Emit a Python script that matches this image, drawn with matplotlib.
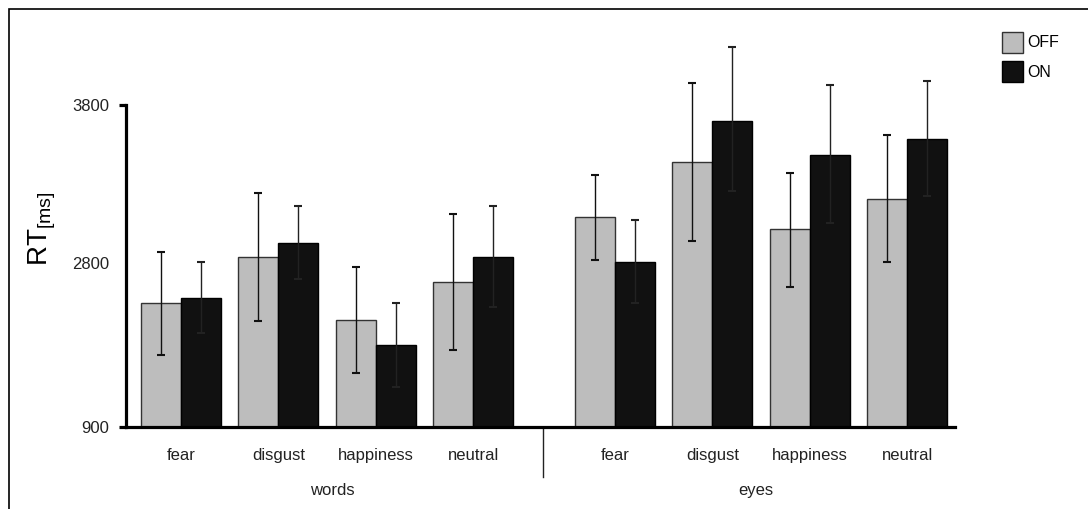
import numpy as np
import matplotlib
matplotlib.use("Agg")
import matplotlib.pyplot as plt
from matplotlib.patches import Rectangle

plt.rcParams["font.family"] = ["Liberation Sans", "DejaVu Sans"]

# categories
emotions = ["fear", "disgust", "happiness", "neutral"]
groups = ["words", "eyes"]
conditions = ["OFF", "ON"]

# mean RT (ms), words then eyes
off_mean = [2333, 2840, 2140, 2583, 3089, 3437, 3017, 3207]
on_mean = [2398, 2925, 1850, 2840, 2808, 3697, 3485, 3587]
# lower / upper ends of the error bars
off_lo = [1734, 2131, 1526, 1792, 2819, 2941, 2518, 2808]
off_hi = [2870, 3245, 2750, 3110, 3357, 3937, 3368, 3608]
on_lo = [1992, 2611, 1360, 2294, 2340, 3256, 3051, 3226]
on_hi = [2806, 3161, 2340, 3163, 3072, 4165, 3925, 3954]

y_ticks = [900, 2800, 3800]


# 纵轴刻度不等距：900-2800 被压缩
def fwd(v):
    v = np.asarray(v, dtype=float)
    return np.where(v <= 2800, (v - 900) / 1900 * 164, 164 + (v - 2800) * 0.158)


def inv(u):
    u = np.asarray(u, dtype=float)
    return np.where(u <= 164, 900 + u * 1900 / 164, 2800 + (u - 164) / 0.158)


fig = plt.figure(figsize=(10.88, 5.09), dpi=100)
ax = fig.add_axes([126 / 1088, 82 / 509, 829 / 1088, 397 / 509])
ax.set_yscale("function", functions=(fwd, inv))

x = np.array([0, 1, 2, 3, 4.45, 5.45, 6.45, 7.45])
w = 0.41

off_mean_a = np.array(off_mean)
on_mean_a = np.array(on_mean)
off_err = [off_mean_a - np.array(off_lo), np.array(off_hi) - off_mean_a]
on_err = [on_mean_a - np.array(on_lo), np.array(on_hi) - on_mean_a]

ax.bar(x - w / 2, off_mean_a - 900, bottom=900, width=w, color="#bdbdbd",
       edgecolor="#333333", linewidth=1.0, label=conditions[0], zorder=2)
ax.bar(x + w / 2, on_mean_a - 900, bottom=900, width=w, color="#111111",
       edgecolor="#000000", linewidth=1.0, label=conditions[1], zorder=2)
ax.errorbar(x - w / 2, off_mean_a, yerr=off_err, fmt="none", ecolor="#111111",
            elinewidth=1.0, capsize=3, capthick=1.5, zorder=3)
ax.errorbar(x + w / 2, on_mean_a, yerr=on_err, fmt="none", ecolor="#222222",
            elinewidth=1.0, capsize=3, capthick=1.5, zorder=3)

ax.set_xlim(-0.564, 7.94)
ax.set_ylim(900, 4275)

for s in ["top", "right"]:
    ax.spines[s].set_visible(False)
ax.spines["left"].set_linewidth(2.3)
ax.spines["bottom"].set_linewidth(2.3)
ax.spines["left"].set_bounds(900, 3800)

ax.set_yticks(y_ticks)
ax.set_yticklabels([str(t) for t in y_ticks])
ax.tick_params(axis="y", length=5, width=2.3, labelsize=12, pad=7,
               labelcolor="#222222")
ax.yaxis.get_major_ticks()[1].tick1line.set_visible(False)

ax.set_xticks(x)
ax.set_xticklabels(emotions * 2)
ax.tick_params(axis="x", length=0, labelsize=12, pad=15, labelcolor="#222222")

ax.set_ylabel(r"RT$_{\mathregular{[ms]}}$", fontsize=20, labelpad=10)

# 分组标签和分隔线
trans = ax.get_xaxis_transform()
ax.text(x[:4].mean() + 0.05, -0.161, groups[0], transform=trans, ha="center",
        va="center", fontsize=12, color="#222222")
ax.text(x[4:].mean() - 0.05, -0.161, groups[1], transform=trans, ha="center",
        va="center", fontsize=12, color="#222222")
ax.plot([3.71, 3.71], [0, -0.126], transform=trans, color="#222222",
        linewidth=1.0, clip_on=False)

fig.legend(loc="upper left", bbox_to_anchor=(1002 / 1088, 1 - 32 / 509),
           frameon=False, fontsize=11.5, handlelength=1.3, handleheight=1.6,
           handletextpad=0.25, labelspacing=0.55, borderpad=0, borderaxespad=0)

# 外框（只露出上边和左边）
fig.patches.append(Rectangle((9.3 / 1088, -0.2), 1.5, (509 - 9.3) / 509 + 0.2,
                             transform=fig.transFigure, fill=False,
                             edgecolor="black", linewidth=1.2))

fig.savefig("out.png", dpi=100)
